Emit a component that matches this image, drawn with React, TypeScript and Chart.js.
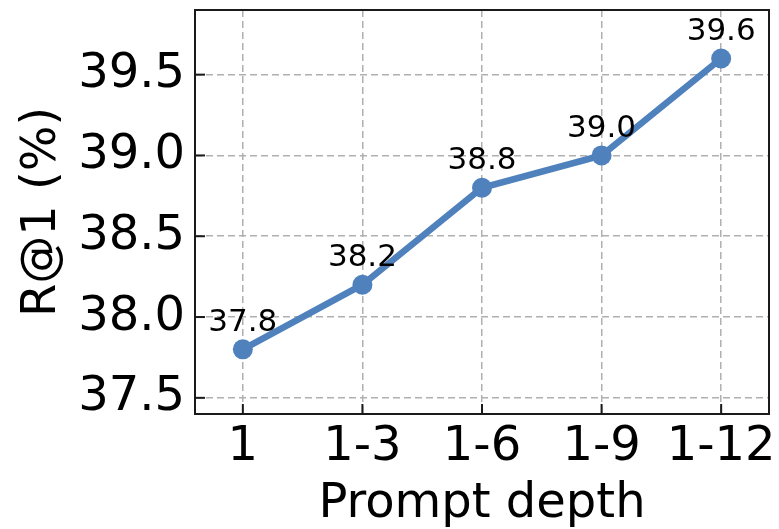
import React, { useEffect, useRef } from 'react';
import { Chart, registerables } from 'chart.js';

Chart.register(...registerables);

const categories = ['1', '1-3', '1-6', '1-9', '1-12'];
const values = [37.8, 38.2, 38.8, 39.0, 39.6];
const valueLabels = ['37.8', '38.2', '38.8', '39.0', '39.6'];
const yTicks = [37.5, 38.0, 38.5, 39.0, 39.5];
const yMin = 37.4;
const yMax = 39.9;
const xMin = -0.4;
const xMax = 4.4;
const xLabel = 'Prompt depth';
const yLabel = 'R@1 (%)';

const FONT = "'DejaVu Sans', sans-serif";
const LINE_COLOR = '#4f81bd';

export default function App() {
  const ref = useRef<HTMLCanvasElement>(null);

  useEffect(() => {
    document.body.style.margin = '0';
    const canvas = ref.current;
    if (!canvas) return;

    const decorPlugin = {
      id: 'decor',
      afterDatasetsDraw(chart: any) {
        const { ctx } = chart;
        const meta = chart.getDatasetMeta(0);
        ctx.save();
        ctx.fillStyle = '#000';
        ctx.font = `31px ${FONT}`;
        ctx.textAlign = 'center';
        ctx.textBaseline = 'alphabetic';
        meta.data.forEach((pt: any, i: number) => {
          ctx.fillText(valueLabels[i], pt.x, pt.y - 18.5);
        });
        ctx.restore();
      },
      afterDraw(chart: any) {
        const { ctx, chartArea, scales } = chart;
        ctx.save();
        ctx.strokeStyle = '#1a1a1a';
        ctx.lineWidth = 2;
        const tl = 10;
        yTicks.forEach((v) => {
          const y = scales.y.getPixelForValue(v);
          ctx.beginPath();
          ctx.moveTo(chartArea.left, y);
          ctx.lineTo(chartArea.left + tl, y);
          ctx.stroke();
        });
        categories.forEach((_, i) => {
          const x = scales.x.getPixelForValue(i);
          ctx.beginPath();
          ctx.moveTo(x, chartArea.bottom);
          ctx.lineTo(x, chartArea.bottom - tl);
          ctx.stroke();
        });
        ctx.strokeRect(
          chartArea.left,
          chartArea.top,
          chartArea.right - chartArea.left,
          chartArea.bottom - chartArea.top
        );
        ctx.restore();
      },
    };

    const chart = new Chart(canvas, {
      type: 'line',
      data: {
        datasets: [
          {
            data: values.map((v, i) => ({ x: i, y: v })),
            borderColor: LINE_COLOR,
            backgroundColor: LINE_COLOR,
            borderWidth: 6.5,
            pointRadius: 10,
            pointHoverRadius: 10,
            pointBorderWidth: 0,
            pointBackgroundColor: LINE_COLOR,
            tension: 0,
            fill: false,
          },
        ],
      },
      options: {
        animation: false,
        responsive: false,
        maintainAspectRatio: false,
        events: [],
        layout: { padding: { top: 9, right: 8, left: 0, bottom: 0 } },
        plugins: {
          legend: { display: false },
          tooltip: { enabled: false },
        },
        scales: {
          x: {
            type: 'linear',
            min: xMin,
            max: xMax,
            afterBuildTicks: (scale: any) => {
              scale.ticks = categories.map((_, i) => ({ value: i }));
            },
            afterFit: (scale: any) => {
              scale.height = 115;
              scale.paddingLeft = 0;
              scale.paddingRight = 0;
            },
            ticks: {
              autoSkip: false,
              maxRotation: 0,
              padding: 5,
              color: '#000',
              font: { family: FONT, size: 48 },
              callback: (v: any) => categories[Math.round(Number(v))] ?? '',
            },
            grid: {
              drawTicks: false,
              color: '#b0b0b0',
              lineWidth: 1.5,
            },
            border: { display: false, dash: [7, 4] },
            title: {
              display: true,
              text: xLabel,
              color: '#000',
              font: { family: FONT, size: 48 },
              padding: { top: 0, bottom: -4 },
            },
          },
          y: {
            type: 'linear',
            min: yMin,
            max: yMax,
            afterBuildTicks: (scale: any) => {
              scale.ticks = yTicks.map((v) => ({ value: v }));
            },
            afterFit: (scale: any) => {
              scale.width = 195;
              scale.paddingTop = 0;
              scale.paddingBottom = 0;
            },
            ticks: {
              padding: 10,
              color: '#000',
              font: { family: FONT, size: 48 },
              callback: (v: any) => Number(v).toFixed(1),
            },
            grid: {
              drawTicks: false,
              color: '#b0b0b0',
              lineWidth: 1.5,
            },
            border: { display: false, dash: [7, 4] },
            title: {
              display: true,
              text: yLabel,
              color: '#000',
              font: { family: FONT, size: 48 },
              padding: { top: 14, bottom: 0 },
            },
          },
        },
      },
      plugins: [decorPlugin],
    });

    return () => chart.destroy();
  }, []);

  return <canvas ref={ref} width={779} height={529} style={{ display: 'block' }} />;
}
